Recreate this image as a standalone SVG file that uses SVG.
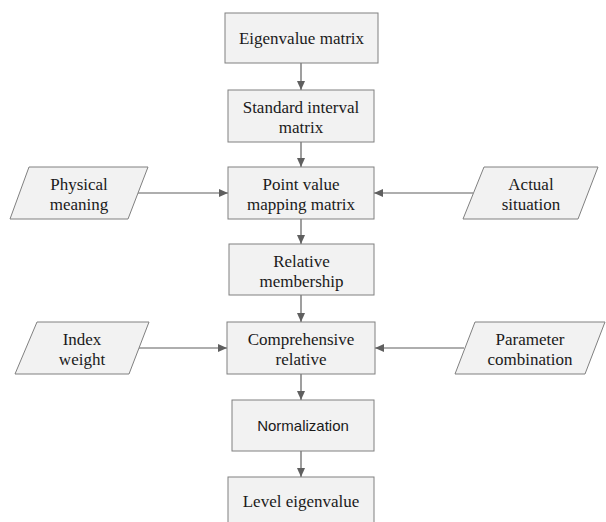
<svg xmlns="http://www.w3.org/2000/svg" width="606" height="522" viewBox="0 0 606 522">
<style>
.box{fill:#f2f2f2;stroke:#808080;stroke-width:1}
.t{font-family:'Liberation Serif','DejaVu Serif',serif;font-size:17px;fill:#1a1a1a;text-anchor:middle}
.s{font-family:'Liberation Sans','DejaVu Sans',sans-serif;font-size:15px;fill:#1a1a1a;text-anchor:middle}
.c{stroke:#5f5f5f;stroke-width:1.2;fill:none;marker-end:url(#ah)}
</style>
<defs>
<marker id="ah" markerUnits="userSpaceOnUse" markerWidth="10" markerHeight="10" refX="9" refY="4" orient="auto">
<path d="M0,0 L9,4 L0,8 Z" fill="#5f5f5f"/>
</marker>
</defs>
<rect width="606" height="522" fill="#ffffff"/>
<g id="connectors">
<line class="c" x1="301" y1="63" x2="301" y2="90"/>
<line class="c" x1="301" y1="142" x2="301" y2="167"/>
<line class="c" x1="301" y1="219" x2="301" y2="244"/>
<line class="c" x1="301" y1="295" x2="301" y2="322"/>
<line class="c" x1="301" y1="374" x2="301" y2="400"/>
<line class="c" x1="301" y1="451" x2="301" y2="477"/>
<line class="c" x1="138" y1="193" x2="228" y2="193"/>
<line class="c" x1="473" y1="193" x2="374" y2="193"/>
<line class="c" x1="139" y1="348" x2="227" y2="348"/>
<line class="c" x1="464" y1="348" x2="375" y2="348"/>
</g>
<g id="eigenvalue-matrix">
<rect class="box" x="225" y="13" width="153" height="50"/>
<text class="t" x="301.5" y="44">Eigenvalue matrix</text>
</g>
<g id="standard-interval-matrix">
<rect class="box" x="228" y="90" width="146" height="52"/>
<text class="t" x="301" y="113">Standard interval</text>
<text class="t" x="301" y="133">matrix</text>
</g>
<g id="point-value-mapping-matrix">
<rect class="box" x="228" y="167" width="146" height="52"/>
<text class="t" x="301" y="190">Point value</text>
<text class="t" x="301" y="210">mapping matrix</text>
</g>
<g id="physical-meaning">
<polygon class="box" points="29,167 148,167 128,219 10,219"/>
<text class="t" x="79" y="190">Physical</text>
<text class="t" x="79" y="210">meaning</text>
</g>
<g id="actual-situation">
<polygon class="box" points="484,167 598,167 578,219 463,219"/>
<text class="t" x="531" y="190">Actual</text>
<text class="t" x="531" y="210">situation</text>
</g>
<g id="relative-membership">
<rect class="box" x="229" y="244" width="145" height="51"/>
<text class="t" x="301.5" y="267">Relative</text>
<text class="t" x="301.5" y="287">membership</text>
</g>
<g id="comprehensive-relative">
<rect class="box" x="227" y="322" width="148" height="52"/>
<text class="t" x="301" y="345">Comprehensive</text>
<text class="t" x="301" y="365">relative</text>
</g>
<g id="index-weight">
<polygon class="box" points="37,322 149,322 129,374 15,374"/>
<text class="t" x="82" y="345">Index</text>
<text class="t" x="82" y="365">weight</text>
</g>
<g id="parameter-combination">
<polygon class="box" points="475,322 605,322 585,374 455,374"/>
<text class="t" x="530" y="345">Parameter</text>
<text class="t" x="530" y="365">combination</text>
</g>
<g id="normalization">
<rect class="box" x="232" y="400" width="142" height="51"/>
<text class="s" x="303" y="431">Normalization</text>
</g>
<g id="level-eigenvalue">
<rect class="box" x="228" y="477" width="146" height="52"/>
<text class="t" x="301" y="507">Level eigenvalue</text>
</g>
</svg>
